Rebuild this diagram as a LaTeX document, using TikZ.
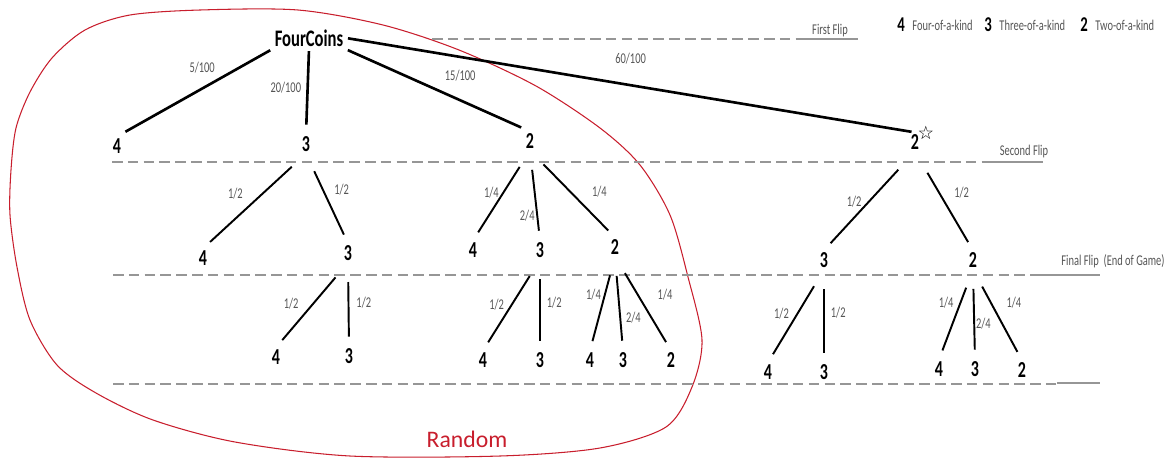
\documentclass[tikz,border=0pt]{standalone}
\usepackage{fontspec}
\setmainfont{Carlito}[FakeStretch=0.7]
\newfontfamily\plainfont{Carlito}
\newfontfamily\symfont{DejaVu Sans}
\usetikzlibrary{positioning}

\definecolor{flipgrey}{RGB}{150,150,150}
\definecolor{taggrey}{RGB}{85,85,85}
\definecolor{randred}{RGB}{200,30,45}

\tikzset{
  coin/.style={font=\bfseries\fontsize{13}{13}\selectfont, inner sep=1pt},
  key/.style={font=\bfseries\fontsize{12}{12}\selectfont, inner sep=0pt},
  tag/.style={font=\fontsize{8.5}{8.5}\selectfont, text=taggrey, inner sep=0pt},
  trunk/.style={line width=1.5pt, shorten <=1pt, shorten >=5.5pt},
  branch/.style={line width=1.1pt, shorten <=11pt, shorten >=5.5pt},
  flipline/.style={draw=flipgrey, line width=0.9pt, dash pattern=on 6pt off 3pt},
  fliptail/.style={draw=flipgrey, line width=0.6pt},
}

\begin{document}
\begin{tikzpicture}[x=0.02cm, y=-0.02cm]
  \useasboundingbox (0,0) rectangle (1174,457);

  % the "random" region
  \draw[randred, line width=0.6pt] plot[smooth cycle, tension=0.5] coordinates {
    (11,170) (16,128) (30,92) (52,58) (85,30) (130,15) (200,10) (298,10)
    (383,25) (459,50) (536,86) (600,128) (640,165) (670,215) (688,277)
    (702,340) (692,387) (666,427) (600,448) (500,456) (350,456) (235,442)
    (153,420) (96,393) (57,365) (30,320) (17,267) (10,215)};
  \node[font=\plainfont\fontsize{13.5}{13.5}\selectfont, text=randred] (random) at (467,439) {Random};

  % flip levels
  \draw[flipline] (432,39) -- (806,39);
  \draw[fliptail] (806,39) -- (858,39);
  \node[tag] (first) at (830,31) {First Flip};
  \draw[flipline] (112,162) -- (988,162);
  \draw[fliptail] (988,162) -- (1043,162);
  \node[tag] (second) at (1024,152) {Second Flip};
  \draw[flipline] (113,275) -- (1039,275);
  \draw[fliptail] (1039,275) -- (1100,275);
  \node[tag] (final) at (1113,261) {Final Flip~~(End of Game)};
  \draw[flipline] (113,384) -- (1057,384);
  \draw[fliptail] (1057,383) -- (1100,383);

  % key
  \node[key] (key4) at (901,25) {4};
  \node[tag, right=4pt of key4] (key4t) {Four-of-a-kind};
  \node[key] (key3) at (988,25) {3};
  \node[tag, right=4pt of key3] (key3t) {Three-of-a-kind};
  \node[key] (key2) at (1084,25) {2};
  \node[tag, right=4pt of key2] (key2t) {Two-of-a-kind};

  % root and first flip
  \node[coin, font=\bfseries\fontsize{13.5}{13.5}\selectfont, inner sep=1.5pt] (root) at (309,38) {FourCoins};
  \node[coin] (n4) at (117,146) {4};
  \node[coin] (n3) at (306,144) {3};
  \node[coin] (n2) at (530,141) {2};
  \node[coin] (n2s) at (915,142) {2};
  \node[font=\symfont\bfseries\fontsize{10.5}{10.5}\selectfont, inner sep=0pt] (n2star) at (926,133) {☆};

  % second flip
  \node[coin] (n34) at (203,258) {4};
  \node[coin] (n33) at (348,253) {3};
  \node[coin] (n24) at (473,250) {4};
  \node[coin] (n23) at (540,250) {3};
  \node[coin] (n22) at (615,247) {2};
  \node[coin] (n2s3) at (824,260) {3};
  \node[coin] (n2s2) at (973,260) {2};

  % final flip
  \node[coin] (n334) at (276,357) {4};
  \node[coin] (n333) at (349,356) {3};
  \node[coin] (n234) at (483,360) {4};
  \node[coin] (n233) at (540,360) {3};
  \node[coin] (n224) at (590,360) {4};
  \node[coin] (n223) at (623,360) {3};
  \node[coin] (n222) at (671,360) {2};
  \node[coin] (n2s34) at (768,372) {4};
  \node[coin] (n2s33) at (824,372) {3};
  \node[coin] (n2s24) at (939,369) {4};
  \node[coin] (n2s23) at (975,369) {3};
  \node[coin] (n2s22) at (1022,370) {2};

  % branches
  \draw[trunk] (root.south west) -- node[tag, pos=.45, above=8pt] {5/100} (n4.north);
  \draw[trunk] (root.south) -- node[tag, pos=.45, left=3pt] {20/100} (n3.north);
  \draw[trunk] (root.south east) -- node[tag, pos=.62, above=10pt] {15/100} (n2.north);
  \draw[trunk, shorten >=2pt] (root.east) -- node[tag, pos=.5, above=11pt] {60/100} (n2s.north);

  \draw[branch] (n3.south) -- node[tag, pos=.55, above left=4.5pt] {1/2} (n34.north);
  \draw[branch] (n3.south) -- node[tag, pos=.4, right=6pt] {1/2} (n33.north);
  \draw[branch] (n2.south) -- node[tag, pos=.47, left=2pt] {1/4} (n24.north);
  \draw[branch] (n2.south) -- node[tag, pos=.73, left=1pt] {2/4} (n23.north);
  \draw[branch] (n2.south) -- node[tag, pos=.47, right=12pt] {1/4} (n22.north);
  \draw[branch, shorten <=14pt] (n2s.south) -- node[tag, pos=.51, left=3.5pt] {1/2} (n2s3.north);
  \draw[branch, shorten <=14pt] (n2s.south) -- node[tag, pos=.42, right=8pt] {1/2} (n2s2.north);

  \draw[branch] (n33.south) -- node[tag, pos=.48, left=8pt] {1/2} (n334.north);
  \draw[branch] (n33.south) -- node[tag, pos=.48, right=4pt] {1/2} (n333.north);
  \draw[branch] (n23.south) -- node[tag, pos=.5, left=3.7pt] {1/2} (n234.north);
  \draw[branch] (n23.south) -- node[tag, pos=.47, right=3.4pt] {1/2} (n233.north);
  \draw[branch] (n22.south) -- node[tag, pos=.41, left=1.7pt] {1/4} (n224.north);
  \draw[branch] (n22.south) -- node[tag, pos=.65, right=2.8pt] {2/4} (n223.north);
  \draw[branch] (n22.south) -- node[tag, pos=.41, right=10.7pt] {1/4} (n222.north);
  \draw[branch] (n2s3.south) -- node[tag, pos=.47, left=4.5pt] {1/2} (n2s34.north);
  \draw[branch] (n2s3.south) -- node[tag, pos=.46, right=3.4pt] {1/2} (n2s33.north);
  \draw[branch] (n2s2.south) -- node[tag, pos=.37, left=3.4pt] {1/4} (n2s24.north);
  \draw[branch] (n2s2.south) -- node[tag, pos=.6, right=.5pt] {2/4} (n2s23.north);
  \draw[branch] (n2s2.south) -- node[tag, pos=.36, right=8.5pt] {1/4} (n2s22.north);
\end{tikzpicture}
\end{document}
